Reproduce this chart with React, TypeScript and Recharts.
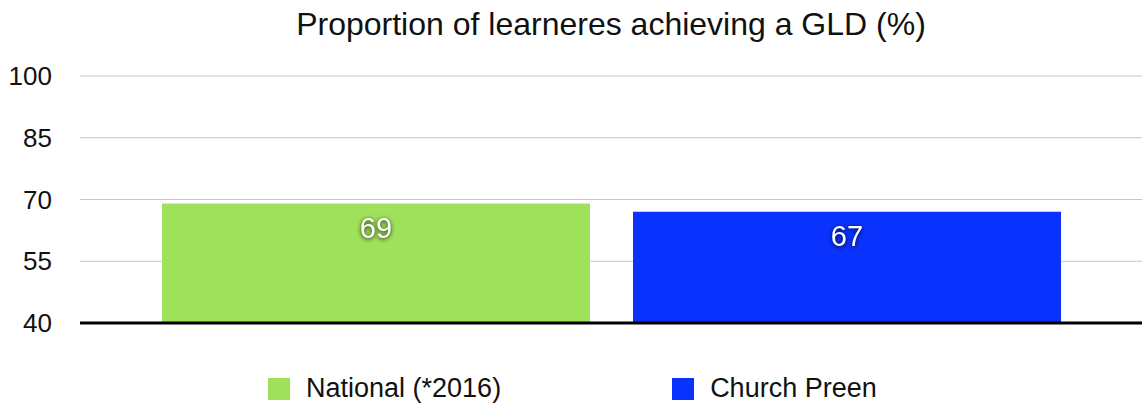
import { Bar, BarChart, CartesianGrid, LabelList, Legend, XAxis, YAxis } from "recharts";

// GLD outcomes: national figure vs. the school
const CATEGORIES = ["GLD"];
const NATIONAL = [69];
const CHURCH_PREEN = [67];
const Y_TICKS = [40, 55, 70, 85, 100];

const SERIES = [
  { key: "national", name: "National (*2016)", color: "#a0e15b" },
  { key: "church", name: "Church Preen", color: "#0a32ff" },
];

const DATA = CATEGORIES.map((c, i) => ({
  name: c,
  national: NATIONAL[i],
  church: CHURCH_PREEN[i],
}));

const FONT = "'Liberation Sans', Arial, Helvetica, sans-serif";

const LegendRow = () => (
  <div style={{ display: "flex", paddingTop: 30, paddingLeft: 268, fontFamily: FONT }}>
    {SERIES.map((s, i) => (
      <div
        key={s.key}
        style={{ display: "flex", alignItems: "center", marginRight: i === 0 ? 171 : 0 }}
      >
        <span style={{ width: 22, height: 22, background: s.color, display: "inline-block", marginRight: 16 }} />
        <span style={{ fontSize: 27, color: "#111" }}>{s.name}</span>
      </div>
    ))}
  </div>
);

export default function App() {
  return (
    <div style={{ position: "absolute", left: 0, top: 0, width: 1142, height: 403, background: "#fff" }}>
      <div
        style={{
          position: "absolute",
          top: 6,
          left: 80,
          width: 1062,
          textAlign: "center",
          fontFamily: FONT,
          fontSize: 32,
          color: "#111",
        }}
      >
        Proportion of learneres achieving a GLD (%)
      </div>
      <BarChart
        width={1142}
        height={403}
        data={DATA}
        margin={{ top: 76, right: 0, bottom: 0, left: 0 }}
        barCategoryGap={82}
        barGap={43}
      >
        <CartesianGrid vertical={false} stroke="#c4c4c4" strokeWidth={1} />
        <XAxis
          dataKey="name"
          tick={false}
          tickLine={false}
          height={20}
          axisLine={{ stroke: "#000", strokeWidth: 3 }}
        />
        <YAxis
          domain={[40, 100]}
          ticks={Y_TICKS}
          width={80}
          axisLine={false}
          tickLine={false}
          tickMargin={22}
          allowDataOverflow
          tick={{ fill: "#111", fontSize: 26, fontFamily: FONT }}
        />
        <Legend verticalAlign="bottom" height={60} content={() => <LegendRow />} />
        {SERIES.map((s) => (
          <Bar key={s.key} dataKey={s.key} name={s.name} fill={s.color} isAnimationActive={false}>
            <LabelList
              dataKey={s.key}
              position="insideTop"
              offset={14}
              style={{
                fill: "#fff",
                fontSize: 29,
                fontFamily: FONT,
                filter: "drop-shadow(0px 1px 2px rgba(0,0,0,0.85))",
              }}
            />
          </Bar>
        ))}
      </BarChart>
    </div>
  );
}
